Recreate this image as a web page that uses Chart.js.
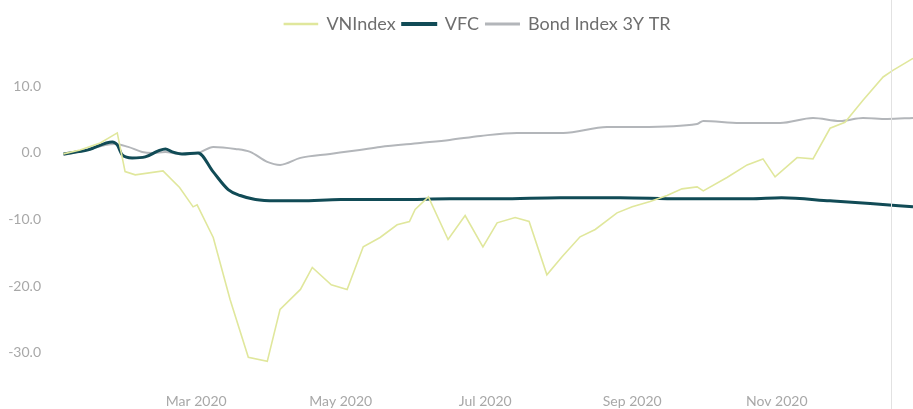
<!DOCTYPE html>
<html>
<head>
<meta charset="utf-8">
<script src="https://cdn.jsdelivr.net/npm/chart.js@4.4.0/dist/chart.umd.min.js"></script>
<style>
  html, body { margin: 0; padding: 0; background: #fff; overflow: hidden; }
  #wrap { position: relative; width: 913px; height: 409px; }
  #edge { position: absolute; left: 891px; top: 0; width: 1px; height: 409px; background: #e2e2e2; }
</style>
</head>
<body>
<div id="wrap">
  <canvas id="perf" width="913" height="409"></canvas>
  <div id="edge"></div>
</div>
<script>
// days counted from 1 Jan 2020 (day 0)
const vnDays = [4, 11, 19.5, 26.7, 30, 34.3, 46, 53, 58.7, 60.4, 67.2, 74.3, 82, 90, 95.4, 104, 109, 117, 123.7,
  130.5, 137.6, 144.8, 150, 152.4, 158, 166.3, 173.5, 181, 187, 194.6, 200.5, 208, 214.4, 222, 228.4, 237.6,
  244, 251.6, 258.7, 265, 271.4, 274, 284, 292.5, 299.2, 304.3, 313.6, 320.3, 327.5, 333.8, 341.4, 349.9, 354, 362.5];
const vnValues = [-0.15, 0.45, 1.5, 3.0, -2.8, -3.3, -2.7, -5.2, -8.1, -7.8, -12.7, -22, -30.7, -31.3, -23.5, -20.5, -17.2, -19.8, -20.5,
  -14.1, -12.7, -10.8, -10.3, -8.5, -6.6, -13.0, -9.4, -14.1, -10.5, -9.7, -10.3, -18.3, -15.6, -12.6, -11.5, -9.0,
  -8.1, -7.3, -6.4, -5.4, -5.1, -5.7, -3.7, -1.8, -0.9, -3.6, -0.7, -0.9, 3.7, 4.6, 7.9, 11.4, 12.4, 14.2];

const vfcDays = [4, 14.4, 24.6, 26.7, 28.8, 33, 38.5, 44, 47, 49.9, 54, 60.8, 67.2, 73.5, 78.6, 85, 93.3, 104, 121,
  146, 167, 188, 213.6, 239, 264, 281, 293.8, 307, 327.5, 344.4, 362.5];
const vfcValues = [-0.15, 0.45, 1.65, 1.2, -0.3, -0.75, -0.6, 0.3, 0.6, 0.15, -0.15, 0, -2.85, -5.5, -6.4, -7.0, -7.2, -7.2, -7.0,
  -7.0, -6.9, -6.9, -6.75, -6.75, -6.9, -6.9, -6.9, -6.75, -7.2, -7.6, -8.1];

const bondDays = [4, 14.4, 21.6, 25.8, 31.3, 37.2, 41.4, 47, 52.4, 60.8, 67.2, 76.5, 82.8, 90, 95.4, 104, 116.5, 129,
  137.6, 154.5, 167, 180, 195.4, 214.9, 233.4, 247.3, 271.4, 274, 289.5, 306.4, 320.3, 331.7, 341.4, 351.6, 362.5];
const bondValues = [-0.3, 0.45, 1.2, 1.35, 0.9, 0.15, 0, 0.15, -0.15, 0, 0.9, 0.6, 0.15, -1.35, -1.8, -0.75, -0.15, 0.45,
  0.9, 1.5, 1.95, 2.55, 3.0, 3.0, 3.9, 3.9, 4.35, 4.8, 4.5, 4.5, 5.25, 4.8, 5.25, 5.1, 5.25];

const xTickDays = [60, 121, 182, 244, 305];
const xTickLabels = ['Mar 2020', 'May 2020', 'Jul 2020', 'Sep 2020', 'Nov 2020'];
const yTickValues = [10, 0, -10, -20, -30];

const palette = {
    vnindex: '#e0e79c',
    vfc: '#114b56',
    bond: '#b3b6ba',
    tickText: '#a8a8a8',
    legendText: '#6e6e6e'
};

const toPoints = (days, values) => days.map((d, i) => ({ x: d, y: values[i] }));

// pushes the plot area down below the legend and nudges the legend right
const legendGap = {
    id: 'legendGap',
    beforeInit(chart) {
        const origFit = chart.legend.fit;
        chart.legend.fit = function () {
            origFit.bind(chart.legend)();
            this.height += 10;
        };
    },
    afterLayout(chart) {
        chart.legend.left += 21;
        chart.legend.right += 21;
    }
};

new Chart(document.getElementById('perf'), {
    type: 'line',
    data: {
        datasets: [
            { label: 'VNIndex', data: toPoints(vnDays, vnValues), borderColor: palette.vnindex, backgroundColor: palette.vnindex,
              borderWidth: 1.6, pointRadius: 0, tension: 0 },
            { label: 'VFC', data: toPoints(vfcDays, vfcValues), borderColor: palette.vfc, backgroundColor: palette.vfc,
              borderWidth: 3, pointRadius: 0, cubicInterpolationMode: 'monotone' },
            { label: 'Bond Index 3Y TR', data: toPoints(bondDays, bondValues), borderColor: palette.bond, backgroundColor: palette.bond,
              borderWidth: 2, pointRadius: 0, cubicInterpolationMode: 'monotone' }
        ]
    },
    options: {
        responsive: false,
        animation: false,
        layout: { padding: { top: 8, right: 0, left: 0, bottom: 0 } },
        scales: {
            x: {
                type: 'linear',
                min: 0,
                max: 362.5,
                grid: { display: false, drawTicks: false },
                border: { display: false },
                afterBuildTicks: (axis) => { axis.ticks = xTickDays.map(v => ({ value: v })); },
                afterFit: (axis) => { axis.height = 23; },
                ticks: {
                    autoSkip: false,
                    maxRotation: 0,
                    padding: 7,
                    color: palette.tickText,
                    font: { size: 14, family: 'Lato' },
                    callback: (value) => xTickLabels[xTickDays.indexOf(value)]
                }
            },
            y: {
                min: -35,
                max: 15,
                grid: { display: false, drawTicks: false },
                border: { display: false },
                afterBuildTicks: (axis) => { axis.ticks = yTickValues.map(v => ({ value: v })); },
                afterFit: (axis) => { axis.width = 54; },
                ticks: {
                    padding: 13,
                    color: palette.tickText,
                    font: { size: 14, family: 'Lato' },
                    callback: (value) => value.toFixed(1)
                }
            }
        },
        plugins: {
            legend: {
                position: 'top',
                labels: {
                    boxWidth: 33,
                    boxHeight: 1,
                    padding: 7,
                    color: palette.legendText,
                    font: { size: 18, family: 'Lato' }
                }
            },
            tooltip: { enabled: false }
        }
    },
    plugins: [legendGap]
});
</script>
</body>
</html>
